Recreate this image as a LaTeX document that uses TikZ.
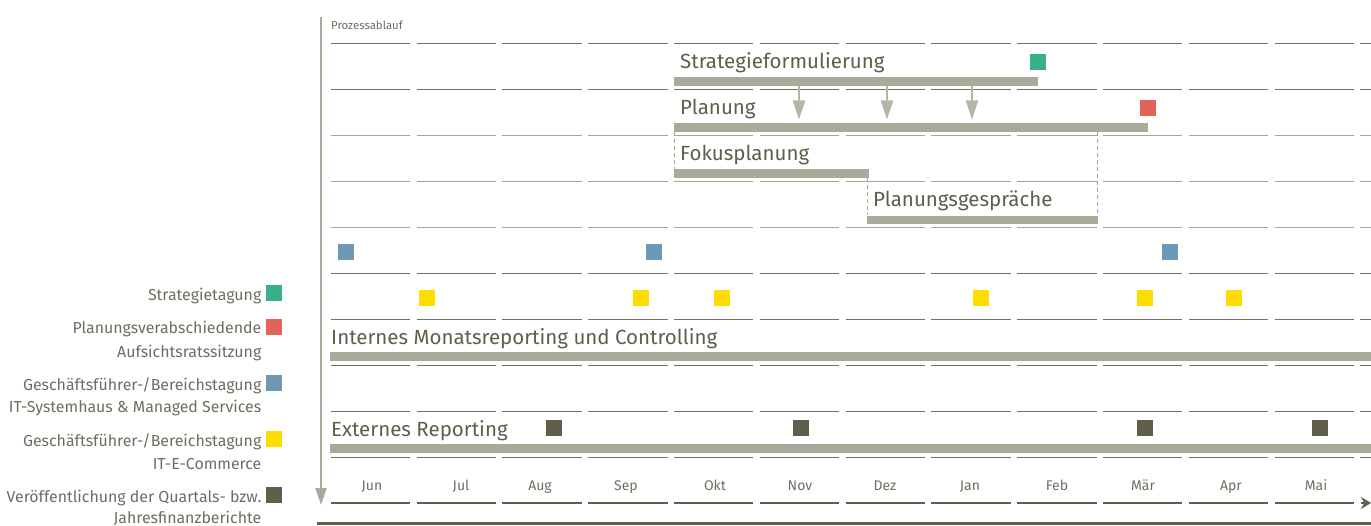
\documentclass[tikz,border=0pt]{standalone}
\usepackage{fontspec}
\setmainfont{Fira Sans}
\usetikzlibrary{arrows.meta}
\definecolor{txt}{HTML}{5E5E4C}
\definecolor{lgd}{HTML}{6E6E60}
\definecolor{barc}{HTML}{AAAA9A}
\definecolor{gridd}{HTML}{727262}
\definecolor{gridl}{HTML}{A5A595}
\definecolor{arrc}{HTML}{B5B5A7}
\definecolor{sqgreen}{HTML}{38B08A}
\definecolor{sqred}{HTML}{E06558}
\definecolor{sqblue}{HTML}{6D98B5}
\definecolor{sqyellow}{HTML}{FFDD00}
\definecolor{sqdark}{HTML}{5F5F4B}
\begin{document}
\begin{tikzpicture}[x=1pt,y=-1pt,
  sq/.style={minimum size=16pt, inner sep=0pt, draw=none, fill=#1},
  barbox/.style={anchor=north west, inner sep=0pt, draw=none, fill=barc, minimum height=8.5pt, minimum width=#1},
  lbl/.style={anchor=base west, inner sep=0pt, text=txt, font=\fontsize{20.5}{21}\selectfont},
  mon/.style={anchor=base, inner sep=0pt, text=lgd, font=\fontsize{14}{15}\selectfont},
  leg/.style={anchor=base east, inner sep=0pt, text=lgd, font=\fontsize{15.9}{16}\selectfont},
  dsh/.style={gridl, line width=1.3pt, dash pattern=on 4pt off 3pt},
  downarrow/.style={arrc, line width=2pt, -{Triangle[width=12pt,length=19pt]}}
]
\useasboundingbox (0,0) rectangle (1371,526);
\clip (0,0) rectangle (1371,526);

% grid rows
\foreach \r/\c in {0/gridd,1/gridd,2/gridl,3/gridl,4/gridl,5/gridd,6/gridd,7/gridd,8/gridd,9/gridd} {
  \foreach \i in {0,...,12} {
    \draw[\c, line width=1.7pt] ({330.7+85.8*\i}, {43.5+46*\r}) -- ++(79.5,0);
  }
}
% thick month line
\foreach \i in {0,...,11} {
  \draw[sqdark, line width=2.8pt] ({330.7+85.8*\i}, 503) -- ++(79.5,0);
}
\coordinate (tl0) at (1360.6,503);
\coordinate (tl1) at (1371,503);
\draw[sqdark, line width=2.8pt, -{Stealth[width=12pt,length=10pt]}] (tl0) -- (tl1);

% bottom long line
\coordinate (bl0) at (317,523.5);
\coordinate (bl1) at (1371,523.5);
\draw[sqdark, line width=2.2pt] (bl0) -- (bl1);

% left vertical process arrow
\coordinate (pv0) at (321,17);
\coordinate (pv1) at (321,505);
\draw[barc, line width=2pt, -{Triangle[width=11pt,length=17pt]}] (pv0) -- (pv1);

\node[anchor=base west, inner sep=0pt, text=lgd, font=\fontsize{11.4}{12}\selectfont] (proz) at (331,29.3) {Prozessablauf};

% bars
\node[barbox=364pt] (strat) at (674,77.3) {};
\node[barbox=474pt] (plan) at (674,123.3) {};
\node[barbox=195pt] (fokus) at (674,169.3) {};
\node[barbox=231pt] (gespr) at (867,215.5) {};
\node[barbox=1050pt] (intern) at (330,352.3) {};
\node[barbox=1050pt] (extern) at (330,444.2) {};

% labels
\node[lbl] (tstrat) at (680,68.3) {Strategieformulierung};
\node[lbl] (tplan) at (680,114.5) {Planung};
\node[lbl] (tfokus) at (680,160.7) {Fokusplanung};
\node[lbl] (tgespr) at (873,206.8) {Planungsgespräche};
\node[lbl] (tintern) at (331,344.8) {Internes Monatsreporting und Controlling};
\node[lbl] (textern) at (331,436.5) {Externes Reporting};

% arrows strategy -> planning
\coordinate (a1) at (799,119.5);
\coordinate (a2) at (887,119.5);
\coordinate (a3) at (972,119.5);
\draw[downarrow] (strat.south -| a1) -- (a1);
\draw[downarrow] (strat.south -| a2) -- (a2);
\draw[downarrow] (strat.south -| a3) -- (a3);

% dashed connectors
\draw[dsh] ([xshift=0.8pt]plan.south west) -- ([xshift=0.8pt]fokus.north west);
\draw[dsh] ([xshift=0.8pt]gespr.north west |- fokus.south) -- ([xshift=0.8pt]gespr.north west);
\draw[dsh] ([xshift=-0.7pt]gespr.north east |- plan.south) -- ([xshift=-0.7pt]gespr.north east);

% squares
\node[sq=sqgreen] (g1) at (1038,62) {};
\node[sq=sqred] (r1) at (1148,108) {};
\node[sq=sqblue] (b1) at (346,252) {};
\node[sq=sqblue] (b2) at (654,252) {};
\node[sq=sqblue] (b3) at (1170,252) {};
\node[sq=sqyellow] (y1) at (427,298) {};
\node[sq=sqyellow] (y2) at (641,298) {};
\node[sq=sqyellow] (y3) at (722,298) {};
\node[sq=sqyellow] (y4) at (981,298) {};
\node[sq=sqyellow] (y5) at (1145,298) {};
\node[sq=sqyellow] (y6) at (1234,298) {};
\node[sq=sqdark] (d1) at (554,428) {};
\node[sq=sqdark] (d2) at (801,428) {};
\node[sq=sqdark] (d3) at (1145,428) {};
\node[sq=sqdark] (d4) at (1320,428) {};

% months
\node[mon] (m1) at (372,490) {Jun};
\node[mon] (m2) at (461,490) {Jul};
\node[mon] (m3) at (540,490) {Aug};
\node[mon] (m4) at (626,490) {Sep};
\node[mon] (m5) at (715,490) {Okt};
\node[mon] (m6) at (800,490) {Nov};
\node[mon] (m7) at (885,490) {Dez};
\node[mon] (m8) at (970,490) {Jan};
\node[mon] (m9) at (1057,490) {Feb};
\node[mon] (m10) at (1143,490) {Mär};
\node[mon] (m11) at (1231,490) {Apr};
\node[mon] (m12) at (1316,490) {Mai};

% legend
\node[sq=sqgreen] (lg1) at (274,293) {};
\node[sq=sqred] (lg2) at (274,327) {};
\node[sq=sqblue] (lg3) at (274,383) {};
\node[sq=sqyellow] (lg4) at (274,439) {};
\node[sq=sqdark] (lg5) at (274,495) {};
\node[leg] (l1) at (261.5,301) {Strategietagung};
\node[leg] (l2a) at (261.5,334) {Planungsverabschiedende};
\node[leg] (l2b) at (261.5,357.3) {Aufsichtsratssitzung};
\node[leg] (l3a) at (261.5,390.7) {Geschäftsführer-/Bereichstagung};
\node[leg] (l3b) at (261.5,412.7) {IT-Systemhaus \& Managed Services};
\node[leg] (l4a) at (261.5,446.7) {Geschäftsführer-/Bereichstagung};
\node[leg] (l4b) at (261.5,469) {IT-E-Commerce};
\node[leg] (l5a) at (261.5,502.7) {Veröffentlichung der Quartals- bzw.};
\node[leg] (l5b) at (261.5,523) {Jahresfinanzberichte};
\end{tikzpicture}
\end{document}
